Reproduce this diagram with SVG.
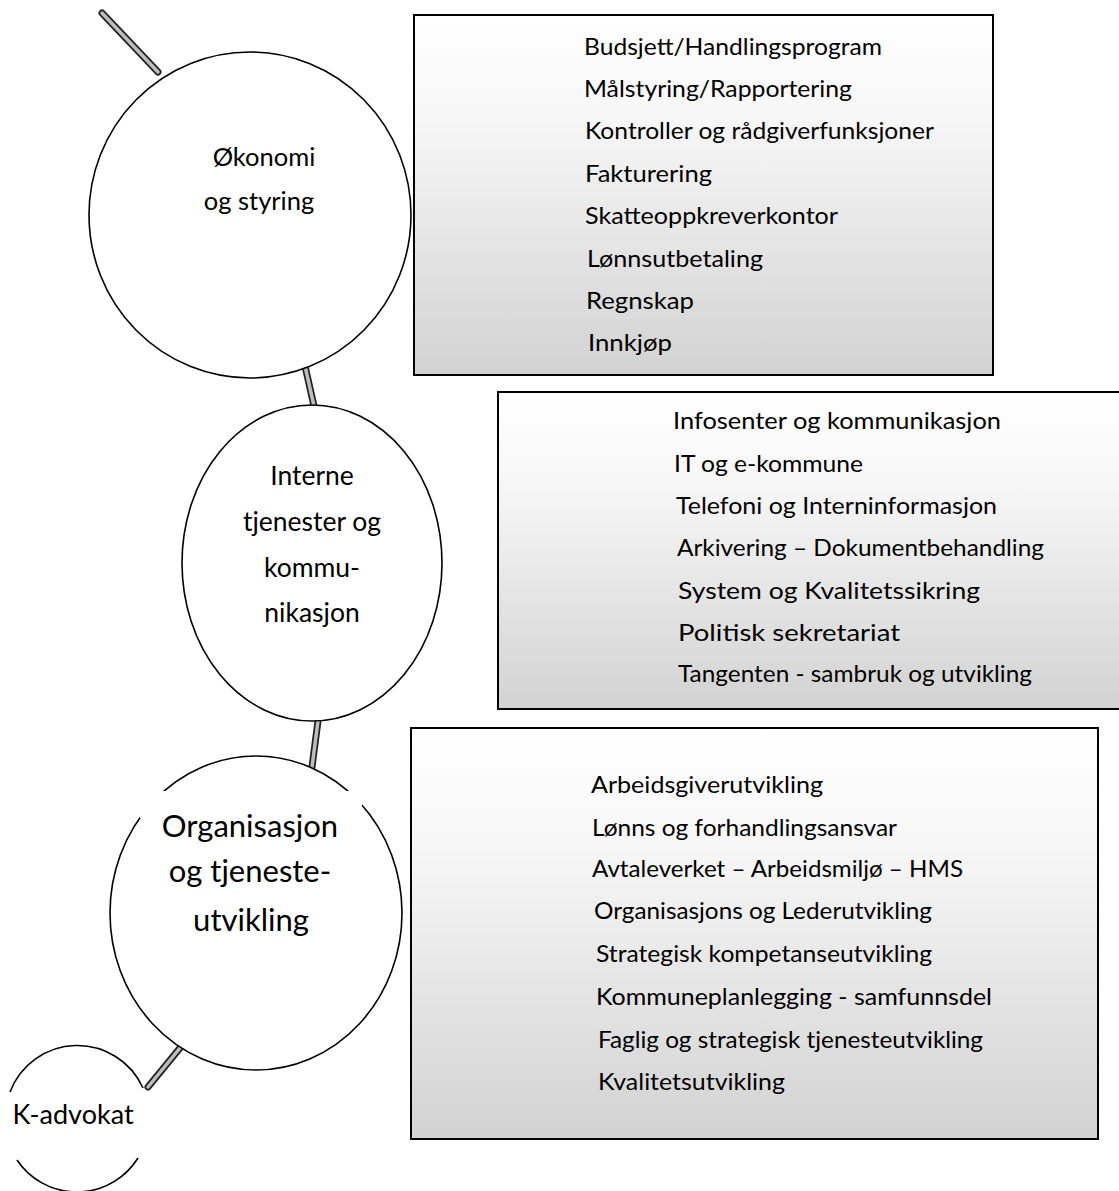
<svg xmlns="http://www.w3.org/2000/svg" width="1119" height="1191" viewBox="0 0 1119 1191">
<style>
.box{stroke:#000;stroke-width:2;fill:url(#shade)}
.node{fill:#fff;stroke:#000;stroke-width:1.6}
.arc{fill:none;stroke:#000;stroke-width:1.6}
.big{font-family:Lato,"Liberation Sans",sans-serif;font-size:28px;fill:#000;text-anchor:middle}
.item{font-family:Lato,"Liberation Sans",sans-serif;font-size:23.5px;fill:#000}
.cout{stroke:#222;stroke-width:7;stroke-linecap:round}
.cin{stroke:#bdbdbd;stroke-width:3.5;stroke-linecap:round}
</style>
<defs>
<linearGradient id="shade" x1="0" y1="0" x2="0" y2="1">
<stop offset="0" stop-color="#ffffff"/>
<stop offset="0.3" stop-color="#f6f6f6"/>
<stop offset="1" stop-color="#d2d2d2"/>
</linearGradient>
</defs>
<rect width="1119" height="1191" fill="#fff"/>

<g id="connectors">
<line class="cout" x1="102" y1="13" x2="158" y2="72"/><line class="cin" x1="102" y1="13" x2="158" y2="72"/>
<line class="cout" x1="305" y1="366" x2="314" y2="406"/><line class="cin" x1="305" y1="366" x2="314" y2="406"/>
<line class="cout" x1="318" y1="721" x2="312" y2="767"/><line class="cin" x1="318" y1="721" x2="312" y2="767"/>
<line class="cout" x1="180" y1="1048" x2="148" y2="1087"/><line class="cin" x1="180" y1="1048" x2="148" y2="1087"/>
</g>

<g id="box-okonomi">
<rect class="box" x="414" y="15" width="579" height="360"/>
<text class="item" x="584" y="55" textLength="298" lengthAdjust="spacingAndGlyphs">Budsjett/Handlingsprogram</text>
<text class="item" x="584" y="97" textLength="268" lengthAdjust="spacingAndGlyphs">Målstyring/Rapportering</text>
<text class="item" x="585" y="139" textLength="349" lengthAdjust="spacingAndGlyphs">Kontroller og rådgiverfunksjoner</text>
<text class="item" x="585" y="182" textLength="127" lengthAdjust="spacingAndGlyphs">Fakturering</text>
<text class="item" x="585" y="224" textLength="253" lengthAdjust="spacingAndGlyphs">Skatteoppkreverkontor</text>
<text class="item" x="587" y="267" textLength="176" lengthAdjust="spacingAndGlyphs">Lønnsutbetaling</text>
<text class="item" x="586" y="309" textLength="108" lengthAdjust="spacingAndGlyphs">Regnskap</text>
<text class="item" x="588" y="351" textLength="84" lengthAdjust="spacingAndGlyphs">Innkjøp</text>
</g>

<g id="box-interne">
<rect class="box" x="498" y="392" width="640" height="317"/>
<text class="item" x="673" y="429" textLength="328" lengthAdjust="spacingAndGlyphs">Infosenter og  kommunikasjon</text>
<text class="item" x="674" y="472" textLength="189" lengthAdjust="spacingAndGlyphs">IT og e-kommune</text>
<text class="item" x="676" y="514" textLength="321" lengthAdjust="spacingAndGlyphs">Telefoni og Interninformasjon</text>
<text class="item" x="677" y="556" textLength="367" lengthAdjust="spacingAndGlyphs">Arkivering – Dokumentbehandling</text>
<text class="item" x="678" y="599" textLength="302" lengthAdjust="spacingAndGlyphs">System og Kvalitetssikring</text>
<text class="item" x="678" y="641" textLength="222" lengthAdjust="spacingAndGlyphs">Politisk sekretariat</text>
<text class="item" x="678" y="682" textLength="354" lengthAdjust="spacingAndGlyphs">Tangenten - sambruk og utvikling</text>
</g>

<g id="box-organisasjon">
<rect class="box" x="411" y="728" width="687" height="411"/>
<text class="item" x="591" y="793" textLength="232" lengthAdjust="spacingAndGlyphs">Arbeidsgiverutvikling</text>
<text class="item" x="592" y="836" textLength="305" lengthAdjust="spacingAndGlyphs">Lønns og forhandlingsansvar</text>
<text class="item" x="592" y="877" textLength="371" lengthAdjust="spacingAndGlyphs">Avtaleverket – Arbeidsmiljø – HMS</text>
<text class="item" x="594" y="919" textLength="338" lengthAdjust="spacingAndGlyphs">Organisasjons og Lederutvikling</text>
<text class="item" x="596" y="962" textLength="336" lengthAdjust="spacingAndGlyphs">Strategisk kompetanseutvikling</text>
<text class="item" x="596" y="1005" textLength="396" lengthAdjust="spacingAndGlyphs">Kommuneplanlegging - samfunnsdel</text>
<text class="item" x="598" y="1048" textLength="385" lengthAdjust="spacingAndGlyphs">Faglig og strategisk tjenesteutvikling</text>
<text class="item" x="598" y="1090" textLength="187" lengthAdjust="spacingAndGlyphs">Kvalitetsutvikling</text>
</g>

<g id="node-okonomi">
<ellipse class="node" cx="250" cy="215" rx="161" ry="163"/>
<text class="big" x="264" y="166" style="font-size:25.5px">Økonomi</text>
<text class="big" x="259" y="210" style="font-size:25.5px">og styring</text>
</g>

<g id="node-interne">
<ellipse class="node" cx="312" cy="563" rx="130" ry="158"/>
<text class="big" x="312" y="485" style="font-size:26.5px">Interne</text>
<text class="big" x="312" y="531" style="font-size:26.5px">tjenester og</text>
<text class="big" x="312" y="577" style="font-size:26.5px">kommu-</text>
<text class="big" x="312" y="622" style="font-size:26.5px">nikasjon</text>
</g>

<g id="node-organisasjon">
<ellipse class="node" cx="256" cy="913" rx="146" ry="157"/>
<rect x="140" y="791" width="222" height="27" fill="#fff"/>
<text class="big" x="250" y="837" style="font-size:31px">Organisasjon</text>
<text class="big" x="250" y="882" style="font-size:31px">og tjeneste-</text>
<text class="big" x="251" y="931" style="font-size:31px">utvikling</text>
</g>

<g id="node-kadvokat">
<path class="arc" d="M10 1092 A72 72 0 0 1 143 1088"/>
<path class="arc" d="M17 1160 A72 72 0 0 0 138 1158"/>
<text class="big" x="73" y="1124" style="font-size:27px">K-advokat</text>
</g>
</svg>
